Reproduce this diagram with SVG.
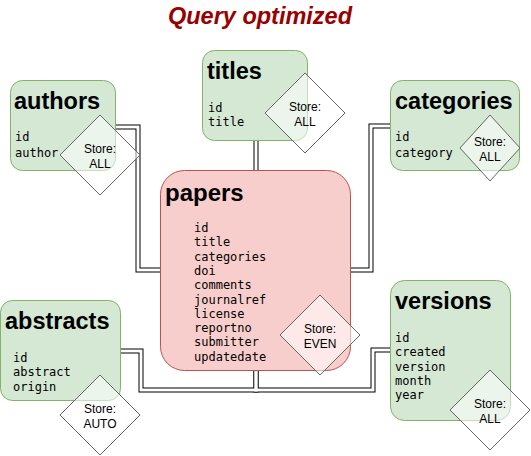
<svg xmlns="http://www.w3.org/2000/svg" width="531" height="456" viewBox="0 0 531 456">
<style>
.tbl{fill:#d5e8d4;stroke:#82b366;stroke-width:1}
.main{fill:#f8cecc;stroke:#b85450;stroke-width:1}
.ttl{font-family:"Liberation Sans",Arial,sans-serif;font-weight:bold;font-size:23.5px;fill:#000}
.fld{font-family:"DejaVu Sans Mono","Liberation Mono",monospace;font-size:12px;fill:#000}
.dia{fill:#ffffff;fill-opacity:0.55;stroke:#666666;stroke-width:1}
.st{font-family:"Liberation Sans",Arial,sans-serif;font-size:12px;fill:#000;text-anchor:middle}
.eo{fill:none;stroke:#000;stroke-width:5}
.ei{fill:none;stroke:#fff;stroke-width:3}
</style>
<rect width="531" height="456" fill="#ffffff"/>
<text x="260" y="24" text-anchor="middle" style="font-family:'Liberation Sans',Arial,sans-serif;font-weight:bold;font-style:italic;font-size:23.5px;fill:#990000">Query optimized</text>
<g id="connectors">
<path class="eo" d="M116,127 H138 V270 H160"/>
<path class="eo" d="M256,140 V170"/>
<path class="eo" d="M390,126 H371 V270 H350"/>
<path class="eo" d="M256,371 V390 H141 V351 H121"/>
<path class="eo" d="M256,371 V390 H373 V350 H390"/>
<path class="ei" d="M116,127 H138 V270 H160"/>
<path class="ei" d="M256,140 V170"/>
<path class="ei" d="M390,126 H371 V270 H350"/>
<path class="ei" d="M256,371 V390 H141 V351 H121"/>
<path class="ei" d="M256,371 V390 H373 V350 H390"/>
</g>
<g id="authors">
<rect class="tbl" x="10.5" y="80.5" width="105" height="90" rx="12"/>
<text class="ttl" x="14" y="109">authors</text>
<text class="fld" x="15" y="141">id</text>
<text class="fld" x="15" y="157">author</text>
<polygon class="dia" points="100,115 140,155 100,195 60,155"/>
<text class="st" x="100" y="153">Store:</text>
<text class="st" x="100" y="168">ALL</text>
</g>
<g id="titles">
<rect class="tbl" x="202.5" y="50.5" width="105" height="90" rx="12"/>
<text class="ttl" x="207" y="79">titles</text>
<text class="fld" x="208" y="112">id</text>
<text class="fld" x="208" y="126">title</text>
<polygon class="dia" points="305,73 345,113 305,153 265,113"/>
<text class="st" x="305" y="111">Store:</text>
<text class="st" x="305" y="126">ALL</text>
</g>
<g id="categories">
<rect class="tbl" x="390.5" y="80.5" width="129" height="90" rx="12"/>
<text class="ttl" x="395" y="109">categories</text>
<text class="fld" x="395" y="141">id</text>
<text class="fld" x="395" y="157">category</text>
<polygon class="dia" points="490,115 520,148 490,181 460,148"/>
<text class="st" x="490" y="146">Store:</text>
<text class="st" x="490" y="161">ALL</text>
</g>
<g id="papers">
<rect class="main" x="160.5" y="170.5" width="190" height="200" rx="24"/>
<text class="ttl" x="165" y="201" style="font-size:24px">papers</text>
<text class="fld" x="194" y="232">id</text>
<text class="fld" x="194" y="246.3">title</text>
<text class="fld" x="194" y="260.6">categories</text>
<text class="fld" x="194" y="274.9">doi</text>
<text class="fld" x="194" y="289.2">comments</text>
<text class="fld" x="194" y="303.5">journalref</text>
<text class="fld" x="194" y="317.8">license</text>
<text class="fld" x="194" y="332.1">reportno</text>
<text class="fld" x="194" y="346.4">submitter</text>
<text class="fld" x="194" y="360.7">updatedate</text>
<polygon class="dia" points="320,295 360,335 320,375 280,335"/>
<text class="st" x="320" y="333">Store:</text>
<text class="st" x="320" y="348">EVEN</text>
</g>
<g id="abstracts">
<rect class="tbl" x="0.5" y="300.5" width="120" height="100" rx="12"/>
<text class="ttl" x="5" y="329">abstracts</text>
<text class="fld" x="13" y="362">id</text>
<text class="fld" x="13" y="376">abstract</text>
<text class="fld" x="13" y="391">origin</text>
<polygon class="dia" points="100,375 140,415 100,455 60,415"/>
<text class="st" x="100" y="413">Store:</text>
<text class="st" x="100" y="428">AUTO</text>
</g>
<g id="versions">
<rect class="tbl" x="390.5" y="280.5" width="120" height="140" rx="14"/>
<text class="ttl" x="395" y="309">versions</text>
<text class="fld" x="395" y="342">id</text>
<text class="fld" x="395" y="356">created</text>
<text class="fld" x="395" y="370.5">version</text>
<text class="fld" x="395" y="385">month</text>
<text class="fld" x="395" y="399">year</text>
<polygon class="dia" points="490,370 530,410 490,450 450,410"/>
<text class="st" x="490" y="408">Store:</text>
<text class="st" x="490" y="423">ALL</text>
</g>
</svg>
